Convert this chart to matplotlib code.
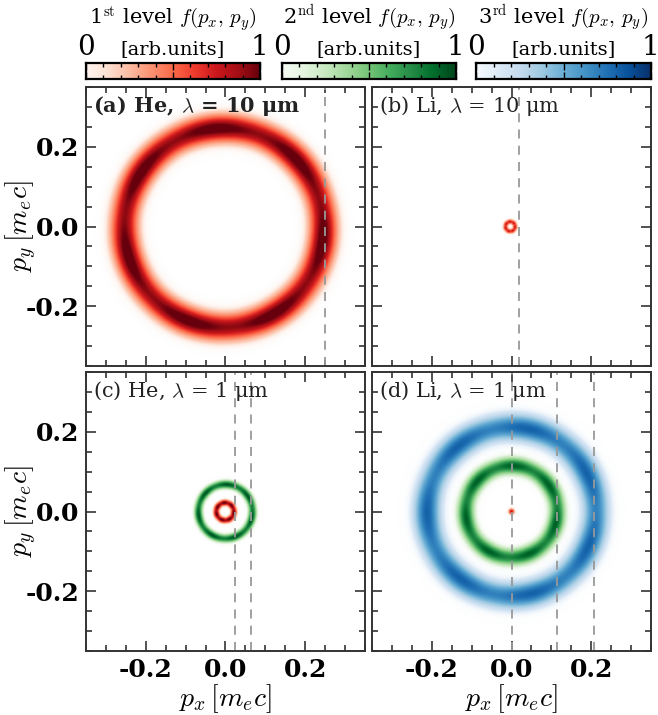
import matplotlib
matplotlib.use("Agg")
import matplotlib.pyplot as plt
import numpy as np
from matplotlib.colors import ListedColormap
from matplotlib.ticker import MultipleLocator

plt.rcParams['font.family'] = 'DejaVu Serif'
plt.rcParams['mathtext.fontset'] = 'cm'

# panel titles and the dashed guide lines (px positions in m_e c)
titles = [r"(a) He, $\lambda$ = 10 μm", r"(b) Li, $\lambda$ = 10 μm",
          r"(c) He, $\lambda$ = 1 μm", r"(d) Li, $\lambda$ = 1 μm"]
dashes = [[0.25], [0.02], [0.025, 0.065], [0.0, 0.113, 0.206]]

# rings per panel: (level, x0, y0, radius, width, peak)
rings_a = [(1, -0.004, -0.003, 0.250, 0.023, 1.00)]
rings_b = [(1, -0.003, 0.000, 0.012, 0.004, 0.72)]
rings_c = [(1, -0.001, 0.000, 0.022, 0.005, 0.95),
           (2, 0.000, 0.000, 0.068, 0.007, 0.88)]
rings_d = [(1, 0.000, 0.000, 0.000, 0.005, 0.80),
           (2, 0.000, 0.000, 0.115, 0.014, 0.85),
           (3, 0.000, 0.000, 0.212, 0.023, 0.75)]
rings = [rings_a, rings_b, rings_c, rings_d]

level_cmaps = {1: 'Reds', 2: 'Greens', 3: 'Blues'}
cb_titles = [r"1$^{\rm st}$ level $f(p_x,\, p_y)$", r"2$^{\rm nd}$ level $f(p_x,\, p_y)$",
             r"3$^{\rm rd}$ level $f(p_x,\, p_y)$"]


def alpha_cmap(name):
    base = plt.get_cmap(name)(np.linspace(0, 1, 256))
    base[:, 3] = np.clip(np.linspace(0, 1, 256) * 6, 0, 1)
    return ListedColormap(base)


lim = 0.35
g = np.linspace(-lim, lim, 500)
X, Y = np.meshgrid(g, g)

W, H = 658, 715
fig = plt.figure(figsize=(W / 100, H / 100), dpi=100)


def px(x0, y0, x1, y1):
    return [x0 / W, 1 - y1 / H, (x1 - x0) / W, (y1 - y0) / H]


boxes = [px(86, 87, 365, 366), px(372, 87, 651, 366),
         px(86, 372, 365, 651), px(372, 372, 651, 651)]

fmt = lambda v, p: f"{v:.1f}".replace("\u2212", "-")

for i, box in enumerate(boxes):
    ax = fig.add_axes(box)
    for lev, x0, y0, R, s, peak in rings[i]:
        r = np.hypot(X - x0, Y - y0)
        th = np.arctan2(Y - y0, X - x0)
        f = peak * np.exp(-(r - R) ** 2 / (2 * s ** 2)) * (1 + 0.08 * np.cos(7 * th + lev))
        ax.imshow(f, extent=[-lim, lim, -lim, lim], origin='lower',
                  cmap=alpha_cmap(level_cmaps[lev]), vmin=0, vmax=1,
                  interpolation='bilinear')
    for d in dashes[i]:
        ax.axvline(d, color='#999999', lw=1.3, ls=(0, (5, 4)))
    ax.set_xlim(-lim, lim)
    ax.set_ylim(-lim, lim)
    ax.xaxis.set_major_locator(MultipleLocator(0.2))
    ax.yaxis.set_major_locator(MultipleLocator(0.2))
    ax.xaxis.set_minor_locator(MultipleLocator(0.05))
    ax.yaxis.set_minor_locator(MultipleLocator(0.05))
    ax.tick_params(which='both', direction='in', top=True, right=True,
                   labelsize=18, color='#333333', width=1.2, pad=5)
    ax.tick_params(which='major', length=7)
    ax.tick_params(which='minor', length=4)
    for sp in ax.spines.values():
        sp.set_linewidth(1.4)
        sp.set_color('#333333')
    ax.xaxis.set_major_formatter(fmt)
    ax.yaxis.set_major_formatter(fmt)
    for lab in ax.get_xticklabels() + ax.get_yticklabels():
        lab.set_fontweight('bold')
    if i % 2 == 1:
        ax.set_yticklabels([])
    else:
        ax.set_ylabel(r"$p_y\,[m_e c]$", fontsize=20)
        ax.yaxis.set_label_coords(-0.17, 0.5)
    if i < 2:
        ax.set_xticklabels([])
    else:
        ax.set_xlabel(r"$p_x\,[m_e c]$", fontsize=20, labelpad=0)
    ax.text(0.025, 0.975, titles[i], transform=ax.transAxes, ha='left', va='top',
            fontsize=15, fontweight='bold' if i == 0 else 'normal', color='#222222')

# colorbars at the top
cb_boxes = [px(86, 63, 260, 79), px(282, 63, 456, 79), px(476, 63, 651, 79)]
grad = np.linspace(0, 1, 256)[None, :]
for j, box in enumerate(cb_boxes):
    cax = fig.add_axes(box)
    cax.imshow(grad, aspect='auto', cmap=level_cmaps[j + 1], extent=[0, 1, 0, 1])
    cax.set_xlim(0, 1)
    cax.set_ylim(0, 1)
    cax.set_yticks([])
    cax.xaxis.set_major_locator(MultipleLocator(0.5))
    cax.xaxis.set_minor_locator(MultipleLocator(0.1))
    cax.tick_params(which='both', direction='in', top=True, bottom=True,
                    labelbottom=False, width=1.0)
    cax.tick_params(which='major', length=5)
    cax.tick_params(which='minor', length=3)
    for sp in cax.spines.values():
        sp.set_linewidth(1.6)
    cax.text(0.0, 1.15, "0", transform=cax.transAxes, ha='center', va='bottom', fontsize=20)
    cax.text(0.995, 1.15, "1", transform=cax.transAxes, ha='center', va='bottom', fontsize=20)
    cax.text(0.5, 1.3, "[arb.units]", transform=cax.transAxes, ha='center', va='bottom', fontsize=14)
    cax.text(0.5, 2.8, cb_titles[j], transform=cax.transAxes, ha='center', va='bottom', fontsize=15)

fig.savefig("out.png", dpi=100)
